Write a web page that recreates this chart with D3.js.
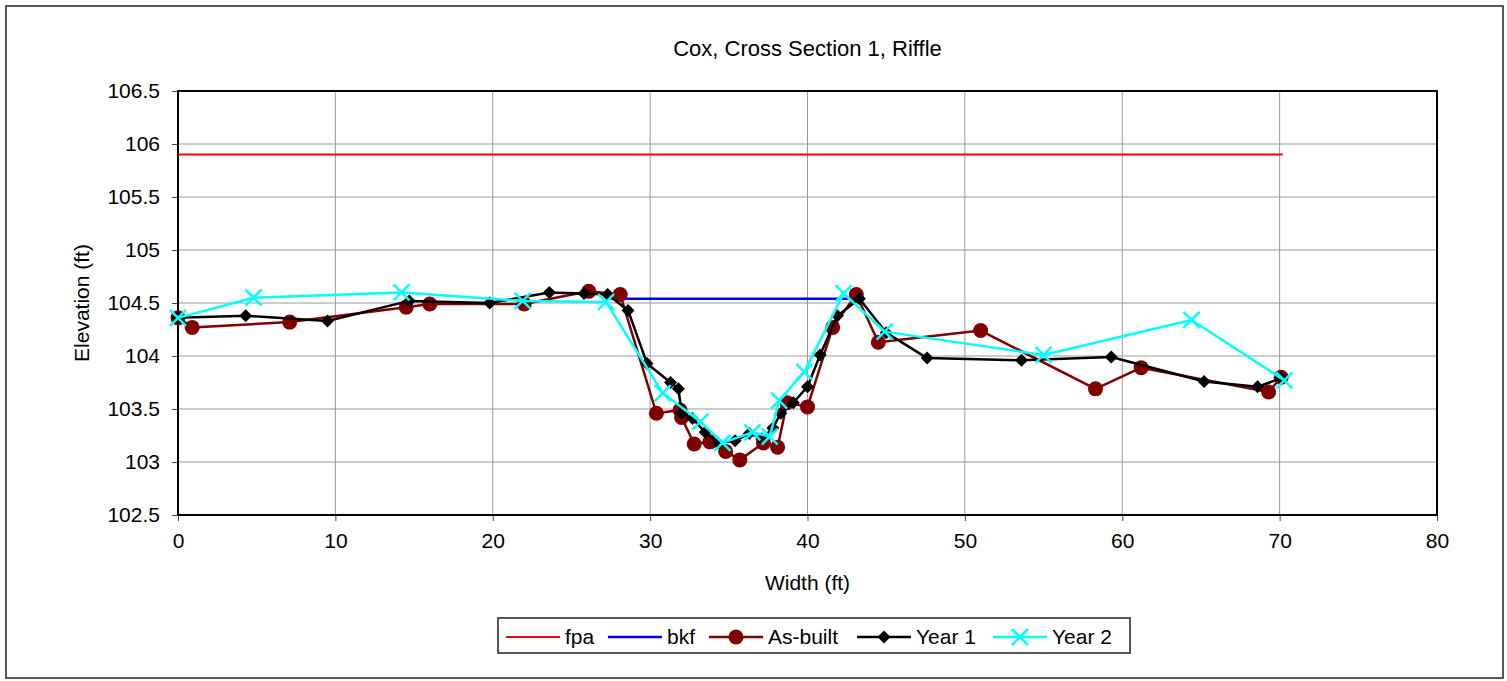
<!DOCTYPE html>
<html>
<head>
<meta charset="utf-8">
<script src="https://cdn.jsdelivr.net/npm/d3@7"></script>
<style>
  body { margin: 0; background: #fff; }
  text { font-family: "Liberation Sans", Arial, sans-serif; fill: #000; }
</style>
</head>
<body>
<div id="chart"></div>
<script>
// cross section survey data (width ft, elevation ft)
const fpaX = [0, 70.2]
const fpaY = [105.9, 105.9]

const bkfX = [27.5, 42.8]
const bkfY = [104.54, 104.54]

const asBuiltX = [0, 0.9, 7.1, 14.5, 16.0, 22.0, 26.1, 28.1, 30.4, 31.9, 32.0, 32.8, 33.8, 34.8, 35.7, 37.2, 38.1, 38.7, 40.0, 41.6, 43.1, 44.5, 51.0, 58.3, 61.2, 69.3, 70.1]
const asBuiltY = [104.36, 104.27, 104.32, 104.46, 104.49, 104.49, 104.61, 104.58, 103.46, 103.49, 103.42, 103.17, 103.19, 103.10, 103.02, 103.18, 103.14, 103.56, 103.52, 104.27, 104.58, 104.13, 104.24, 103.69, 103.89, 103.66, 103.80]

const year1X = [0, 4.3, 9.5, 14.7, 19.8, 23.6, 25.8, 27.3, 28.6, 29.8, 31.3, 31.8, 32.0, 32.7, 33.5, 34.3, 35.4, 36.3, 37.1, 37.8, 38.3, 39.1, 40.0, 40.8, 41.9, 43.3, 45.0, 47.6, 53.6, 59.3, 65.2, 68.6, 70.1]
const year1Y = [104.36, 104.38, 104.33, 104.52, 104.50, 104.60, 104.59, 104.58, 104.43, 103.93, 103.75, 103.69, 103.46, 103.41, 103.28, 103.18, 103.20, 103.27, 103.22, 103.32, 103.46, 103.56, 103.71, 104.01, 104.38, 104.54, 104.22, 103.98, 103.96, 103.99, 103.76, 103.71, 103.79]

const year2X = [0, 4.8, 14.2, 21.9, 27.2, 30.8, 33.2, 34.6, 36.5, 37.6, 38.2, 39.8, 42.3, 44.9, 55.0, 64.4, 70.3]
const year2Y = [104.36, 104.55, 104.60, 104.52, 104.51, 103.65, 103.38, 103.18, 103.28, 103.24, 103.58, 103.85, 104.59, 104.23, 104.01, 104.34, 103.77]

const xTicks = [0, 10, 20, 30, 40, 50, 60, 70, 80]
const yTicks = [102.5, 103, 103.5, 104, 104.5, 105, 105.5, 106, 106.5]

const width = 1507
const height = 681
const margin = ({ top: 91, right: 70, bottom: 166, left: 178 })

const zip = (xs, ys) => xs.map((v, i) => ({ x: v, y: ys[i] }))

const series = [
    { name: 'fpa', color: '#ff0000', w: 2, marker: null, values: zip(fpaX, fpaY) },
    { name: 'bkf', color: '#0000ff', w: 2.5, marker: null, values: zip(bkfX, bkfY) },
    { name: 'As-built', color: '#800000', w: 2.5, marker: 'circle', values: zip(asBuiltX, asBuiltY) },
    { name: 'Year 1', color: '#000000', w: 2.5, marker: 'diamond', values: zip(year1X, year1Y) },
    { name: 'Year 2', color: '#00ffff', w: 2.5, marker: 'cross', values: zip(year2X, year2Y) }
]

var x = d3.scaleLinear()
    .domain([0, 80])
    .range([margin.left, width - margin.right])

var y = d3.scaleLinear()
    .domain([102.5, 106.5])
    .range([height - margin.bottom, margin.top])

var svg = d3.select('#chart')
    .append('svg')
    .attr('width', width)
    .attr('height', height)

// outer frame
svg.append('rect')
    .attr('x', 6).attr('y', 6)
    .attr('width', 1497).attr('height', 672)
    .attr('fill', 'none')
    .attr('stroke', '#222')
    .attr('stroke-width', 1.5)

// grid
svg.append('g')
    .attr('stroke', '#999')
    .attr('stroke-width', 1)
    .call(g => g.selectAll('.gx')
        .data(xTicks.slice(1, -1))
        .join('line')
        .attr('class', 'gx')
        .attr('x1', d => x(d)).attr('x2', d => x(d))
        .attr('y1', y(106.5)).attr('y2', y(102.5)))
    .call(g => g.selectAll('.gy')
        .data(yTicks.slice(1, -1))
        .join('line')
        .attr('class', 'gy')
        .attr('y1', d => y(d)).attr('y2', d => y(d))
        .attr('x1', x(0)).attr('x2', x(80)))

// axes
xAxis = g => g
    .attr('transform', `translate(0,${y(102.5)})`)
    .call(d3.axisBottom(x).tickValues(xTicks).tickSize(6).tickPadding(12).tickFormat(d3.format('~g')))
    .call(g => g.select('.domain').remove())
    .call(g => g.selectAll('.tick line').attr('stroke', '#444'))
    .call(g => g.selectAll('text').attr('font-size', 21).attr('font-family', '"Liberation Sans", Arial, sans-serif'))

yAxis = g => g
    .attr('transform', `translate(${x(0)},0)`)
    .call(d3.axisLeft(y).tickValues(yTicks).tickSize(6).tickPadding(12).tickFormat(d3.format('~g')))
    .call(g => g.select('.domain').remove())
    .call(g => g.selectAll('.tick line').attr('stroke', '#444'))
    .call(g => g.selectAll('text').attr('font-size', 21).attr('font-family', '"Liberation Sans", Arial, sans-serif'))

svg.append('g').call(xAxis)
svg.append('g').call(yAxis)

// plot frame
svg.append('rect')
    .attr('x', x(0)).attr('y', y(106.5))
    .attr('width', x(80) - x(0)).attr('height', y(102.5) - y(106.5))
    .attr('fill', 'none')
    .attr('stroke', '#000')
    .attr('stroke-width', 2)

const line = d3.line()
    .x(d => x(d.x))
    .y(d => y(d.y))

function drawMarker(sel, type, color) {
    if (type === 'circle') {
        sel.append('circle').attr('r', 7.5).attr('fill', color)
    } else if (type === 'diamond') {
        sel.append('path').attr('d', 'M0,-6.5L6.5,0L0,6.5L-6.5,0Z').attr('fill', color)
    } else if (type === 'cross') {
        sel.append('path').attr('d', 'M-8,-8L8,8M-8,8L8,-8')
            .attr('stroke', color).attr('stroke-width', 2.5).attr('fill', 'none')
    }
}

series.forEach(s => {
    var g = svg.append('g')
    g.append('path')
        .datum(s.values)
        .attr('fill', 'none')
        .attr('stroke', s.color)
        .attr('stroke-width', s.w)
        .attr('stroke-linejoin', 'round')
        .attr('d', line)
    if (s.marker) {
        g.selectAll('g')
            .data(s.values)
            .join('g')
            .attr('transform', d => `translate(${x(d.x)},${y(d.y)})`)
            .each(function () { drawMarker(d3.select(this), s.marker, s.color) })
    }
})

// title and axis labels
svg.append('text')
    .attr('x', (x(0) + x(80)) / 2)
    .attr('y', 56)
    .attr('text-anchor', 'middle')
    .attr('font-size', 22)
    .text('Cox, Cross Section 1, Riffle')

svg.append('text')
    .attr('x', (x(0) + x(80)) / 2)
    .attr('y', 590)
    .attr('text-anchor', 'middle')
    .attr('font-size', 21)
    .text('Width (ft)')

svg.append('text')
    .attr('transform', `translate(89,${(y(102.5) + y(106.5)) / 2}) rotate(-90)`)
    .attr('text-anchor', 'middle')
    .attr('font-size', 21)
    .text('Elevation (ft)')

// legend
const legX = [506, 608, 709, 857, 993]
var leg = svg.append('g')
leg.append('rect')
    .attr('x', 498).attr('y', 618)
    .attr('width', 632).attr('height', 35)
    .attr('fill', '#fff')
    .attr('stroke', '#222')
    .attr('stroke-width', 1.5)

const item = leg.selectAll('.item')
    .data(series)
    .join('g')
    .attr('transform', (d, i) => `translate(${legX[i]},637)`)

item.append('line')
    .attr('x1', 0).attr('x2', 54)
    .attr('stroke', d => d.color)
    .attr('stroke-width', d => d.w)

item.each(function (d) {
    if (d.marker) drawMarker(d3.select(this).append('g').attr('transform', 'translate(27,0)'), d.marker, d.color)
})

item.append('text')
    .attr('x', 59)
    .attr('dy', '0.35em')
    .attr('font-size', 21)
    .text(d => d.name)
</script>
</body>
</html>
